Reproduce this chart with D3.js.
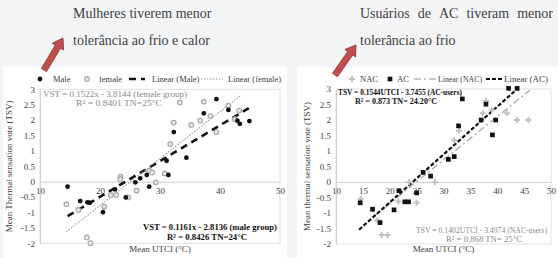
<!DOCTYPE html>
<html>
<head>
<meta charset="utf-8">
<script src="https://cdn.jsdelivr.net/npm/d3@7"></script>
<style>
  html, body { margin: 0; padding: 0; background: #f4f5f7; }
  svg { display: block; }
</style>
</head>
<body>
<div id="chart"></div>
<script>
// tick values for both panels
const yTicks = [-2, -1.5, -1, -0.5, 0, 0.5, 1, 1.5, 2, 2.5, 3];
const xTicksGender = [10, 20, 30, 40, 50];
const xTicksAc = [10, 15, 20, 25, 30, 35, 40, 45, 50];

// left panel: male / female groups (mean UTCI vs mean TSV)
const maleUtci = [14.6, 16.7, 17.9, 18.3, 20.5, 22.5, 24.3, 25.9, 26.7, 27.8, 28.2, 31.1, 31.4, 32.3, 34.4, 37.3, 39.4, 41.4, 42.9, 43.3, 44.9];
const maleTsv  = [-0.16, -0.63, -0.67, -0.68, -0.99, -0.25, -0.51, -0.02, 0.11, 0.22, -0.16, 0.68, 0.22, 1.61, 0.78, 2.22, 2.68, 2.33, 1.98, 1.88, 1.97];
const femaleUtci = [14.4, 16.4, 17.8, 18.4, 20.7, 21.8, 22.7, 23.4, 23.4, 24.7, 26.1, 28.2, 28.7, 29.3, 30.8, 31.7, 32.3, 33.3, 35.2, 36.7, 37.3, 38.4, 39.4, 41.4, 42.5, 43.2];
const femaleTsv  = [-0.73, -0.92, -1.81, -2.0, -0.81, -0.43, -0.43, 0.16, 0.08, -0.51, -0.29, 0.36, 0.30, -0.02, 0.27, 1.22, 1.92, 2.57, 1.84, 1.98, 2.60, 2.13, 1.61, 2.47, 2.03, 2.31];

// right panel: AC users / non AC users
const acUtci = [14.5, 16.8, 18.2, 20.8, 21.7, 22.8, 23.5, 25.0, 26.2, 27.6, 30.9, 32.0, 32.8, 33.5, 37.0, 37.9, 39.1, 39.7, 42.1, 43.7];
const acTsv  = [-0.67, -0.88, -1.31, -0.90, -0.28, -0.64, -0.64, -0.35, 0.31, 0.19, 0.73, 0.82, 1.81, 2.68, 2.0, 2.51, 1.52, 2.0, 3.02, 3.02];
const nacUtci = [14.6, 17.7, 18.5, 19.6, 21.6, 23.6, 25.0, 28.4, 32.0, 32.9, 37.3, 37.9, 39.0, 41.8, 43.7, 45.8];
const nacTsv  = [-0.55, -1.23, -1.71, -1.71, -0.63, -0.01, -0.67, -0.01, 1.35, 1.65, 2.22, 2.61, 2.32, 2.22, 2.0, 2.0];

// regression lines: [slope, intercept, xStart, xEnd]
const maleFit   = [0.1161, -2.8136, 14.6, 44.8];
const femaleFit = [0.1522, -3.8144, 14.4, 43.4];
const acFit     = [0.1544, -3.7455, 14.3, 43.7];
const nacFit    = [0.1402, -3.4974, 17.0, 46.0];

const W = 558, H = 258;
const FONT = "'Liberation Serif', 'Times New Roman', serif";

const svg = d3.select('#chart').append('svg')
  .attr('width', W).attr('height', H)
  .style('font-family', FONT);

svg.append('rect').attr('width', W).attr('height', H).attr('fill', '#f4f5f7');

// white panels
svg.append('rect').attr('x', 3).attr('y', 67).attr('width', 284).attr('height', 191).attr('fill', '#fff');
svg.append('rect').attr('x', 297).attr('y', 67).attr('width', 261).attr('height', 191).attr('fill', '#fff');

function drawPanel(cfg) {
  const x = d3.scaleLinear().domain([10, 50]).range(cfg.xRange);
  const y = d3.scaleLinear().domain([-2, 3]).range(cfg.yRange);
  const g = svg.append('g');

  // plot frame
  g.append('rect')
    .attr('x', x(10)).attr('y', y(3))
    .attr('width', x(50) - x(10)).attr('height', y(-2) - y(3))
    .attr('fill', 'none').attr('stroke', '#e2e2e2');

  // y axis
  const yAxis = g.append('g')
    .attr('transform', `translate(${x(10)},0)`)
    .call(d3.axisLeft(y).tickValues(yTicks).tickSize(0).tickPadding(5).tickFormat(d => String(d)));
  yAxis.attr('font-family', null);
  yAxis.select('.domain').attr('stroke', '#d0d0d0');
  yAxis.selectAll('text').attr('fill', '#404040').style('font-size', '9px').style('font-family', FONT);

  // x axis sits on TSV = 0
  const xAxis = g.append('g')
    .attr('transform', `translate(0,${y(0)})`)
    .call(d3.axisBottom(x).tickValues(cfg.xTicks).tickSize(0).tickPadding(6).tickFormat(d => String(d)));
  xAxis.attr('font-family', null);
  xAxis.select('.domain').attr('stroke', '#d0d0d0');
  xAxis.selectAll('text').attr('fill', '#404040').style('font-size', '9px').style('font-family', FONT);

  // axis titles
  g.append('text')
    .attr('x', (x(10) + x(50)) / 2).attr('y', 252)
    .attr('text-anchor', 'middle').attr('fill', '#404040').style('font-size', '9px')
    .text('Mean UTCI (°C)');
  g.append('text')
    .attr('transform', `translate(${cfg.yTitleX},${(y(3) + y(-2)) / 2}) rotate(-90)`)
    .attr('text-anchor', 'middle').attr('fill', '#404040').style('font-size', '9px')
    .text(cfg.yTitle);

  // trend lines
  cfg.fits.forEach(f => {
    const [a, b, x0, x1] = f.fit;
    g.append('line')
      .attr('x1', x(x0)).attr('y1', y(a * x0 + b))
      .attr('x2', x(x1)).attr('y2', y(a * x1 + b))
      .attr('stroke', f.color).attr('stroke-width', f.width)
      .attr('stroke-dasharray', f.dash);
  });

  // points
  cfg.series.forEach(s => {
    const pts = s.xs.map((v, i) => [v, s.ys[i]]);
    g.selectAll(null).data(pts).enter()
      .append('path')
      .attr('transform', d => `translate(${x(d[0])},${y(d[1])})`)
      .attr('d', d3.symbol().type(s.symbol).size(s.size))
      .attr('fill', s.fill).attr('stroke', s.stroke).attr('stroke-width', s.strokeWidth);
  });

  // legend
  const lg = g.append('g').attr('transform', `translate(0,${cfg.legendY})`);
  cfg.legend.forEach(item => {
    if (item.kind === 'marker') {
      const s = item.series;
      lg.append('path')
        .attr('transform', `translate(${item.x},0)`)
        .attr('d', d3.symbol().type(s.symbol).size(s.size))
        .attr('fill', s.fill).attr('stroke', s.stroke).attr('stroke-width', s.strokeWidth);
    } else {
      const f = item.fit;
      lg.append('line')
        .attr('x1', item.x).attr('x2', item.x + item.len)
        .attr('stroke', f.color).attr('stroke-width', f.width).attr('stroke-dasharray', f.dash);
    }
    const t = lg.append('text')
      .attr('x', item.tx).attr('y', 3)
      .attr('fill', '#404040').style('font-size', '8.5px')
      .text(item.label);
    if (item.w) t.attr('textLength', item.w).attr('lengthAdjust', 'spacingAndGlyphs');
  });

  // equations, stretched to the span they take in the figure
  cfg.notes.forEach(n => {
    g.append('text')
      .attr('x', n.x).attr('y', n.y)
      .attr('fill', n.color).style('font-size', (n.fs || 8.5) + 'px')
      .style('font-weight', n.bold ? 'bold' : 'normal')
      .attr('textLength', n.w).attr('lengthAdjust', 'spacingAndGlyphs')
      .text(n.text);
  });
}

const maleS   = { xs: maleUtci, ys: maleTsv, symbol: d3.symbolCircle, size: 18, fill: '#111', stroke: 'none', strokeWidth: 0 };
const femaleS = { xs: femaleUtci, ys: femaleTsv, symbol: d3.symbolCircle, size: 17, fill: '#e8e8e8', stroke: '#a8a8a8', strokeWidth: 1.2 };
const acS     = { xs: acUtci, ys: acTsv, symbol: d3.symbolSquare, size: 22, fill: '#111', stroke: 'none', strokeWidth: 0 };
const nacS    = { xs: nacUtci, ys: nacTsv, symbol: d3.symbolCross, size: 20, fill: '#c2c2c2', stroke: 'none', strokeWidth: 0 };

const maleL   = { fit: maleFit, color: '#111', width: 2.6, dash: '7,5' };
const femaleL = { fit: femaleFit, color: '#9a9a9a', width: 1.1, dash: '1.5,1.5' };
const acL     = { fit: acFit, color: '#111', width: 2.2, dash: '4,2' };
const nacL    = { fit: nacFit, color: '#b5b5b5', width: 1.6, dash: '7,3,2,3' };

drawPanel({
  xRange: [40, 280], yRange: [243.3, 89.3], xTicks: xTicksGender,
  yTitleX: 12, yTitle: 'Mean Thermal sensation vote (TSV)',
  series: [femaleS, maleS], fits: [maleL, femaleL],
  legendY: 79,
  legend: [
    { kind: 'marker', series: maleS, x: 40, tx: 53, label: 'Male' },
    { kind: 'marker', series: femaleS, x: 87, tx: 99, label: 'female' },
    { kind: 'line', fit: maleL, x: 129, len: 16, tx: 152, label: 'Linear (Male)' },
    { kind: 'line', fit: femaleL, x: 195, len: 28, tx: 228, label: 'Linear (female)' }
  ],
  notes: [
    { x: 43, y: 97, w: 144, color: '#8a8a8a', text: 'VST = 0.1522x - 3.8144 (female group)' },
    { x: 76, y: 106, w: 86, color: '#8a8a8a', text: 'R² = 0.8401 TN=25°C' },
    { x: 143, y: 230, w: 134, color: '#111', bold: true, text: 'VST = 0.1161x - 2.8136 (male group)' },
    { x: 167, y: 240, w: 80, color: '#111', bold: true, text: 'R² = 0.8426 TN=24°C' }
  ]
});

drawPanel({
  xRange: [336, 551], yRange: [244, 89], xTicks: xTicksAc,
  yTitleX: 310, yTitle: 'Mean thermal sensation vote (TSV)',
  series: [nacS, acS], fits: [nacL, acL],
  legendY: 79,
  legend: [
    { kind: 'marker', series: nacS, x: 352, tx: 360, label: 'NAC' },
    { kind: 'marker', series: acS, x: 390, tx: 397, label: 'AC' },
    { kind: 'line', fit: nacL, x: 414, len: 23, tx: 438, w: 44, label: 'Linear (NAC)' },
    { kind: 'line', fit: acL, x: 486, len: 17, tx: 504, w: 44, label: 'Linear (AC)' }
  ],
  notes: [
    { x: 338, y: 95, w: 124, color: '#111', bold: true, text: 'TSV = 0.1544UTCI - 3.7455 (AC-users)' },
    { x: 355, y: 104, w: 82, color: '#111', bold: true, text: 'R² = 0.873  TN= 24.20°C' },
    { x: 416, y: 233, w: 131, fs: 8, color: '#8a8a8a', text: 'TSV = 0.1402UTCI - 3.4974 (NAC-users)' },
    { x: 446, y: 242, w: 76, color: '#8a8a8a', text: 'R² = 0.868  TN= 25°C' }
  ]
});

// captions above the charts; first right line is justified word by word
function caption(x0, width, y, words, justify) {
  const t = svg.append('g').style('font-size', '14px').attr('fill', '#404040');
  if (!justify) {
    t.append('text').attr('x', x0).attr('y', y).text(words.join(' '));
    return;
  }
  const nodes = words.map(w => t.append('text').attr('y', y).text(w));
  const widths = nodes.map(n => n.node().getComputedTextLength());
  const gap = (width - d3.sum(widths)) / (words.length - 1);
  let cx = x0;
  nodes.forEach((n, i) => { n.attr('x', cx); cx += widths[i] + gap; });
}
caption(73, 137, 18, ['Mulheres', 'tiverem', 'menor'], false);
caption(73, 137, 45, ['tolerância', 'ao', 'frio', 'e', 'calor'], false);
caption(360, 193, 18, ['Usuários', 'de', 'AC', 'tiveram', 'menor'], true);
caption(360, 193, 45, ['tolerância', 'ao', 'frio'], false);

// red block arrows
function arrow(x0, y0, x1, y1) {
  const ang = Math.atan2(y1 - y0, x1 - x0);
  const len = Math.hypot(x1 - x0, y1 - y0);
  const shaft = 3, head = 6.5, headLen = 10;
  const pts = [[0, -shaft], [len - headLen, -shaft], [len - headLen, -head], [len, 0],
               [len - headLen, head], [len - headLen, shaft], [0, shaft]];
  svg.append('polygon')
    .attr('points', pts.map(p => p.join(',')).join(' '))
    .attr('transform', `translate(${x0},${y0}) rotate(${ang * 180 / Math.PI})`)
    .attr('fill', '#c0504d').attr('stroke', '#8c3836').attr('stroke-width', 0.8);
}
arrow(44, 70, 63, 38);
arrow(335, 75, 356, 45);
</script>
</body>
</html>
